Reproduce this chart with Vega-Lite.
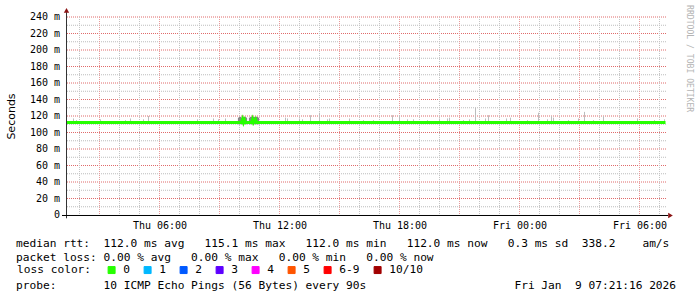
{
  "$schema": "https://vega.github.io/schema/vega-lite/v6.json",
  "width": 600,
  "height": 198,
  "autosize": "none",
  "padding": {"left": 66, "top": 17, "right": 31, "bottom": 82},
  "background": "white",
  "config": {
    "view": {"stroke": null},
    "font": "DejaVu Sans Mono",
    "axis": {"labelOverlap": false, "labelFlush": false, "labelBound": false}
  },
  "title": {
    "text": [
      "median rtt:\u00a0\u00a0112.0 ms avg\u00a0\u00a0\u00a0115.1 ms max\u00a0\u00a0\u00a0112.0 ms min\u00a0\u00a0\u00a0112.0 ms now\u00a0\u00a0\u00a00.3 ms sd\u00a0\u00a0338.2\u00a0\u00a0\u00a0\u00a0am/s",
      "packet loss: 0.00 % avg\u00a0\u00a0\u00a00.00 % max\u00a0\u00a0\u00a00.00 % min\u00a0\u00a0\u00a00.00 % now"
    ],
    "subtitle": "probe:\u00a0\u00a0\u00a0\u00a0\u00a0\u00a0\u00a010 ICMP Echo Pings (56 Bytes) every 90s\u00a0\u00a0\u00a0\u00a0\u00a0\u00a0\u00a0\u00a0\u00a0\u00a0\u00a0\u00a0\u00a0\u00a0\u00a0\u00a0\u00a0\u00a0\u00a0\u00a0\u00a0\u00a0Fri Jan\u00a0\u00a09 07:21:16 2026",
    "orient": "bottom",
    "anchor": "start",
    "frame": "group",
    "font": "DejaVu Sans Mono",
    "fontSize": 11.2,
    "fontWeight": "normal",
    "color": "black",
    "lineHeight": 14,
    "baseline": "top",
    "subtitleFont": "DejaVu Sans Mono",
    "subtitleFontSize": 11.2,
    "subtitleFontWeight": "normal",
    "subtitleColor": "black",
    "subtitlePadding": 16.8,
    "offset": -38,
    "dx": -50
  },
  "datasets": {
    "yMinor": [{"v": 10}, {"v": 30}, {"v": 50}, {"v": 70}, {"v": 90}, {"v": 110}, {"v": 130}, {"v": 150}, {"v": 170}, {"v": 190}, {"v": 210}, {"v": 230}],
    "yMajor": [{"v": 20}, {"v": 40}, {"v": 60}, {"v": 80}, {"v": 100}, {"v": 120}, {"v": 140}, {"v": 160}, {"v": 180}, {"v": 200}, {"v": 220}, {"v": 240}],
    "yLabels": [
      {"t": "2026-01-08T01:01:30", "v": 0, "label": "0\u00a0\u00a0"},
      {"t": "2026-01-08T01:01:30", "v": 20, "label": "20 m"},
      {"t": "2026-01-08T01:01:30", "v": 40, "label": "40 m"},
      {"t": "2026-01-08T01:01:30", "v": 60, "label": "60 m"},
      {"t": "2026-01-08T01:01:30", "v": 80, "label": "80 m"},
      {"t": "2026-01-08T01:01:30", "v": 100, "label": "100 m"},
      {"t": "2026-01-08T01:01:30", "v": 120, "label": "120 m"},
      {"t": "2026-01-08T01:01:30", "v": 140, "label": "140 m"},
      {"t": "2026-01-08T01:01:30", "v": 160, "label": "160 m"},
      {"t": "2026-01-08T01:01:30", "v": 180, "label": "180 m"},
      {"t": "2026-01-08T01:01:30", "v": 200, "label": "200 m"},
      {"t": "2026-01-08T01:01:30", "v": 220, "label": "220 m"},
      {"t": "2026-01-08T01:01:30", "v": 240, "label": "240 m"}
    ],
    "hourMinor": [
      {"t": "2026-01-08T02:00:00"}, {"t": "2026-01-08T04:00:00"}, {"t": "2026-01-08T05:00:00"},
      {"t": "2026-01-08T07:00:00"}, {"t": "2026-01-08T08:00:00"}, {"t": "2026-01-08T10:00:00"},
      {"t": "2026-01-08T11:00:00"}, {"t": "2026-01-08T13:00:00"}, {"t": "2026-01-08T14:00:00"},
      {"t": "2026-01-08T16:00:00"}, {"t": "2026-01-08T17:00:00"}, {"t": "2026-01-08T19:00:00"},
      {"t": "2026-01-08T20:00:00"}, {"t": "2026-01-08T22:00:00"}, {"t": "2026-01-08T23:00:00"},
      {"t": "2026-01-09T01:00:00"}, {"t": "2026-01-09T02:00:00"}, {"t": "2026-01-09T04:00:00"},
      {"t": "2026-01-09T05:00:00"}, {"t": "2026-01-09T07:00:00"}
    ],
    "hourMajor": [
      {"t": "2026-01-08T03:00:00"}, {"t": "2026-01-08T06:00:00"}, {"t": "2026-01-08T09:00:00"},
      {"t": "2026-01-08T12:00:00"}, {"t": "2026-01-08T15:00:00"}, {"t": "2026-01-08T18:00:00"},
      {"t": "2026-01-08T21:00:00"}, {"t": "2026-01-09T00:00:00"}, {"t": "2026-01-09T03:00:00"},
      {"t": "2026-01-09T06:00:00"}
    ],
    "axisY": [{"t": "2026-01-08T01:21:00", "lo": -4, "hi": 246}],
    "axisX": [{"t0": "2026-01-08T01:07:30", "t1": "2026-01-09T07:25:30", "v": -0.6}],
    "arrowUp": [{"t": "2026-01-08T01:21:00", "v": 248}],
    "arrowRight": [{"t": "2026-01-09T07:33:00", "v": -0.6}],
    "credit": [{"t": "2026-01-09T08:27:00", "v": 254.5, "label": "RRDTOOL / TOBI OETIKER"}],
    "smoke": [
      {"t": "2026-01-08T01:42:00", "lo": 111, "hi": 117},
      {"t": "2026-01-08T01:51:00", "lo": 111, "hi": 115},
      {"t": "2026-01-08T03:03:00", "lo": 111, "hi": 116},
      {"t": "2026-01-08T04:18:00", "lo": 111, "hi": 115},
      {"t": "2026-01-08T04:33:00", "lo": 111, "hi": 117},
      {"t": "2026-01-08T05:12:00", "lo": 111, "hi": 116},
      {"t": "2026-01-08T05:27:00", "lo": 111, "hi": 120},
      {"t": "2026-01-08T07:54:00", "lo": 111, "hi": 116},
      {"t": "2026-01-08T08:42:00", "lo": 111, "hi": 117},
      {"t": "2026-01-08T08:57:00", "lo": 111, "hi": 116},
      {"t": "2026-01-08T09:18:00", "lo": 111, "hi": 117},
      {"t": "2026-01-08T12:18:00", "lo": 111, "hi": 118},
      {"t": "2026-01-08T12:24:00", "lo": 111, "hi": 117},
      {"t": "2026-01-08T13:00:00", "lo": 111, "hi": 117},
      {"t": "2026-01-08T13:09:00", "lo": 111, "hi": 116},
      {"t": "2026-01-08T13:33:00", "lo": 111, "hi": 121},
      {"t": "2026-01-08T14:00:00", "lo": 111, "hi": 124},
      {"t": "2026-01-08T14:24:00", "lo": 111, "hi": 116},
      {"t": "2026-01-08T14:30:00", "lo": 111, "hi": 117},
      {"t": "2026-01-08T15:30:00", "lo": 111, "hi": 117},
      {"t": "2026-01-08T16:12:00", "lo": 111, "hi": 115},
      {"t": "2026-01-08T16:42:00", "lo": 111, "hi": 115},
      {"t": "2026-01-08T17:39:00", "lo": 111, "hi": 121},
      {"t": "2026-01-08T18:00:00", "lo": 111, "hi": 121},
      {"t": "2026-01-08T18:24:00", "lo": 111, "hi": 116},
      {"t": "2026-01-08T18:42:00", "lo": 111, "hi": 116},
      {"t": "2026-01-08T19:24:00", "lo": 111, "hi": 115},
      {"t": "2026-01-08T20:00:00", "lo": 111, "hi": 117},
      {"t": "2026-01-08T20:24:00", "lo": 111, "hi": 117},
      {"t": "2026-01-08T20:30:00", "lo": 111, "hi": 118},
      {"t": "2026-01-08T21:12:00", "lo": 111, "hi": 115},
      {"t": "2026-01-08T21:30:00", "lo": 111, "hi": 116},
      {"t": "2026-01-08T21:48:00", "lo": 111, "hi": 130},
      {"t": "2026-01-08T22:18:00", "lo": 111, "hi": 117},
      {"t": "2026-01-08T22:27:00", "lo": 111, "hi": 121},
      {"t": "2026-01-08T23:21:00", "lo": 111, "hi": 117},
      {"t": "2026-01-08T23:33:00", "lo": 111, "hi": 118},
      {"t": "2026-01-09T00:24:00", "lo": 111, "hi": 115},
      {"t": "2026-01-09T00:57:00", "lo": 111, "hi": 124},
      {"t": "2026-01-09T01:24:00", "lo": 111, "hi": 116},
      {"t": "2026-01-09T01:36:00", "lo": 111, "hi": 120},
      {"t": "2026-01-09T01:42:00", "lo": 111, "hi": 118},
      {"t": "2026-01-09T02:27:00", "lo": 111, "hi": 115},
      {"t": "2026-01-09T02:57:00", "lo": 111, "hi": 117},
      {"t": "2026-01-09T03:15:00", "lo": 111, "hi": 125},
      {"t": "2026-01-09T03:42:00", "lo": 111, "hi": 115},
      {"t": "2026-01-09T04:12:00", "lo": 111, "hi": 120},
      {"t": "2026-01-09T05:54:00", "lo": 111, "hi": 117},
      {"t": "2026-01-09T06:45:00", "lo": 111, "hi": 115},
      {"t": "2026-01-09T07:15:00", "lo": 111, "hi": 116}
    ],
    "burst": [
      {"t": "2026-01-08T09:57:00", "lo": 110, "hi": 118},
      {"t": "2026-01-08T10:00:00", "lo": 110, "hi": 119},
      {"t": "2026-01-08T10:03:00", "lo": 110, "hi": 119},
      {"t": "2026-01-08T10:06:00", "lo": 110, "hi": 118},
      {"t": "2026-01-08T10:09:00", "lo": 110, "hi": 119},
      {"t": "2026-01-08T10:12:00", "lo": 110, "hi": 119},
      {"t": "2026-01-08T10:15:00", "lo": 110, "hi": 118},
      {"t": "2026-01-08T10:18:00", "lo": 110, "hi": 119},
      {"t": "2026-01-08T10:21:00", "lo": 110, "hi": 118},
      {"t": "2026-01-08T10:30:00", "lo": 110, "hi": 118},
      {"t": "2026-01-08T10:33:00", "lo": 110, "hi": 119},
      {"t": "2026-01-08T10:36:00", "lo": 110, "hi": 119},
      {"t": "2026-01-08T10:39:00", "lo": 110, "hi": 118},
      {"t": "2026-01-08T10:42:00", "lo": 110, "hi": 119},
      {"t": "2026-01-08T10:45:00", "lo": 110, "hi": 119},
      {"t": "2026-01-08T10:48:00", "lo": 110, "hi": 118},
      {"t": "2026-01-08T10:51:00", "lo": 110, "hi": 119},
      {"t": "2026-01-08T10:54:00", "lo": 110, "hi": 119},
      {"t": "2026-01-08T10:57:00", "lo": 110, "hi": 118}
    ],
    "median": [
      {"t": "2026-01-08T01:21:00", "rtt": 112, "loss": "0"},
      {"t": "2026-01-08T03:00:00", "rtt": 112, "loss": "0"},
      {"t": "2026-01-08T05:00:00", "rtt": 112, "loss": "0"},
      {"t": "2026-01-08T07:00:00", "rtt": 112, "loss": "0"},
      {"t": "2026-01-08T09:00:00", "rtt": 112, "loss": "0"},
      {"t": "2026-01-08T10:06:00", "rtt": 112, "loss": "0"},
      {"t": "2026-01-08T10:09:00", "rtt": 116, "loss": "0"},
      {"t": "2026-01-08T10:12:00", "rtt": 112, "loss": "0"},
      {"t": "2026-01-08T10:15:00", "rtt": 115, "loss": "0"},
      {"t": "2026-01-08T10:18:00", "rtt": 112, "loss": "0"},
      {"t": "2026-01-08T10:36:00", "rtt": 112, "loss": "0"},
      {"t": "2026-01-08T10:39:00", "rtt": 116, "loss": "0"},
      {"t": "2026-01-08T10:42:00", "rtt": 112, "loss": "0"},
      {"t": "2026-01-08T10:48:00", "rtt": 116, "loss": "0"},
      {"t": "2026-01-08T10:51:00", "rtt": 112, "loss": "0"},
      {"t": "2026-01-08T13:00:00", "rtt": 112, "loss": "0"},
      {"t": "2026-01-08T17:00:00", "rtt": 112, "loss": "0"},
      {"t": "2026-01-08T21:00:00", "rtt": 112, "loss": "0"},
      {"t": "2026-01-09T01:00:00", "rtt": 112, "loss": "0"},
      {"t": "2026-01-09T05:00:00", "rtt": 112, "loss": "0"},
      {"t": "2026-01-09T07:18:00", "rtt": 112, "loss": "0"}
    ]
  },
  "layer": [
    {
      "data": {"name": "yMinor"},
      "mark": {"type": "rule", "color": "#bdbdbd", "strokeDash": [1, 1], "strokeWidth": 1},
      "encoding": {"y": {"field": "v", "type": "quantitative"}}
    },
    {
      "data": {"name": "yMajor"},
      "mark": {"type": "rule", "color": "#e06a6a", "strokeDash": [1, 1], "strokeWidth": 1},
      "encoding": {"y": {"field": "v", "type": "quantitative"}}
    },
    {
      "data": {"name": "hourMinor"},
      "mark": {"type": "rule", "color": "#c4c4c4", "strokeDash": [1, 1], "strokeWidth": 1},
      "encoding": {"x": {"field": "t", "type": "temporal"}}
    },
    {
      "data": {"name": "hourMajor"},
      "mark": {"type": "rule", "color": "#e89a9a", "strokeDash": [1, 1], "strokeWidth": 1},
      "encoding": {"x": {"field": "t", "type": "temporal"}}
    },
    {
      "data": {"name": "smoke"},
      "mark": {"type": "rule", "color": "#bdbdbd", "strokeWidth": 1},
      "encoding": {
        "x": {"field": "t", "type": "temporal"},
        "y": {"field": "lo", "type": "quantitative"},
        "y2": {"field": "hi"}
      }
    },
    {
      "data": {"name": "burst"},
      "mark": {"type": "rule", "color": "#858585", "strokeWidth": 1.2},
      "encoding": {
        "x": {"field": "t", "type": "temporal"},
        "y": {"field": "lo", "type": "quantitative"},
        "y2": {"field": "hi"}
      }
    },
    {
      "data": {"name": "median"},
      "mark": {"type": "line", "strokeWidth": 3, "strokeCap": "butt"},
      "encoding": {
        "x": {
          "field": "t", "type": "temporal",
          "scale": {"domain": [
            {"year": 2026, "month": 1, "date": 8, "hours": 1, "minutes": 19, "seconds": 30},
            {"year": 2026, "month": 1, "date": 9, "hours": 7, "minutes": 19, "seconds": 30}
          ]},
          "axis": {
            "title": null,
            "values": [
              {"year": 2026, "month": 1, "date": 8, "hours": 6},
              {"year": 2026, "month": 1, "date": 8, "hours": 12},
              {"year": 2026, "month": 1, "date": 8, "hours": 18},
              {"year": 2026, "month": 1, "date": 9, "hours": 0},
              {"year": 2026, "month": 1, "date": 9, "hours": 6}
            ],
            "format": "%a %H:%M",
            "labelFont": "DejaVu Sans Mono", "labelFontSize": 10, "labelColor": "black",
            "ticks": false, "domain": false, "grid": false,
            "labelPadding": 5, "labelFlush": false, "labelOverlap": false
          }
        },
        "y": {
          "field": "rtt", "type": "quantitative",
          "scale": {"domain": [0, 240], "nice": false},
          "axis": {
            "labels": false, "ticks": false, "domain": false, "grid": false,
            "title": "Seconds", "titleFont": "DejaVu Sans", "titleFontSize": 11,
            "titleFontWeight": "normal", "titleColor": "black",
            "titleX": -55, "titleBaseline": "middle"
          }
        },
        "color": {
          "field": "loss", "type": "nominal",
          "scale": {
            "domain": ["0", "1", "2", "3", "4", "5", "6-9", "10/10"],
            "range": ["#26ff00", "#00b8ff", "#0059ff", "#5e00ff", "#ff00ff", "#ff5500", "#ff0000", "#a10000"]
          },
          "legend": {
            "orient": "none", "legendX": -49, "legendY": 247,
            "direction": "horizontal", "columns": 8,
            "title": "loss color:", "titleOrient": "left",
            "titleFont": "DejaVu Sans Mono", "titleFontSize": 11.2, "titleFontWeight": "normal",
            "titleColor": "black", "titlePadding": 14, "titleBaseline": "middle", "titleAnchor": "middle",
            "labelFont": "DejaVu Sans Mono", "labelFontSize": 11.2, "labelColor": "black",
            "labelOffset": 6, "columnPadding": 12, "padding": 0,
            "symbolType": "square", "symbolSize": 49,
            "encode": {
              "symbols": {
                "update": {
                  "fill": {"scale": "color", "field": "value"},
                  "stroke": {"value": "black"},
                  "strokeWidth": {"value": 1},
                  "opacity": {"value": 1},
                  "shape": {"value": "square"},
                  "size": {"value": 49}
                }
              }
            }
          }
        }
      }
    },
    {
      "data": {"name": "yLabels"},
      "mark": {"type": "text", "align": "right", "baseline": "middle", "font": "DejaVu Sans Mono", "fontSize": 10, "color": "black"},
      "encoding": {
        "x": {"field": "t", "type": "temporal"},
        "y": {"field": "v", "type": "quantitative"},
        "text": {"field": "label"}
      }
    },
    {
      "data": {"name": "axisY"},
      "mark": {"type": "rule", "color": "#333333", "strokeWidth": 1},
      "encoding": {
        "x": {"field": "t", "type": "temporal"},
        "y": {"field": "lo", "type": "quantitative"},
        "y2": {"field": "hi"}
      }
    },
    {
      "data": {"name": "axisX"},
      "mark": {"type": "rule", "color": "#000000", "strokeWidth": 1},
      "encoding": {
        "x": {"field": "t0", "type": "temporal"},
        "x2": {"field": "t1"},
        "y": {"field": "v", "type": "quantitative"}
      }
    },
    {
      "data": {"name": "arrowUp"},
      "mark": {"type": "point", "shape": "triangle-up", "filled": true, "color": "#8b1414", "size": 28, "opacity": 1},
      "encoding": {
        "x": {"field": "t", "type": "temporal"},
        "y": {"field": "v", "type": "quantitative"}
      }
    },
    {
      "data": {"name": "arrowRight"},
      "mark": {"type": "point", "shape": "triangle-right", "filled": true, "color": "#8b1414", "size": 28, "opacity": 1},
      "encoding": {
        "x": {"field": "t", "type": "temporal"},
        "y": {"field": "v", "type": "quantitative"}
      }
    },
    {
      "data": {"name": "credit"},
      "mark": {"type": "text", "angle": 90, "align": "left", "baseline": "middle", "font": "DejaVu Sans Mono", "fontSize": 8.1, "color": "#b4b4b4"},
      "encoding": {
        "x": {"field": "t", "type": "temporal"},
        "y": {"field": "v", "type": "quantitative"},
        "text": {"field": "label"}
      }
    }
  ]
}
